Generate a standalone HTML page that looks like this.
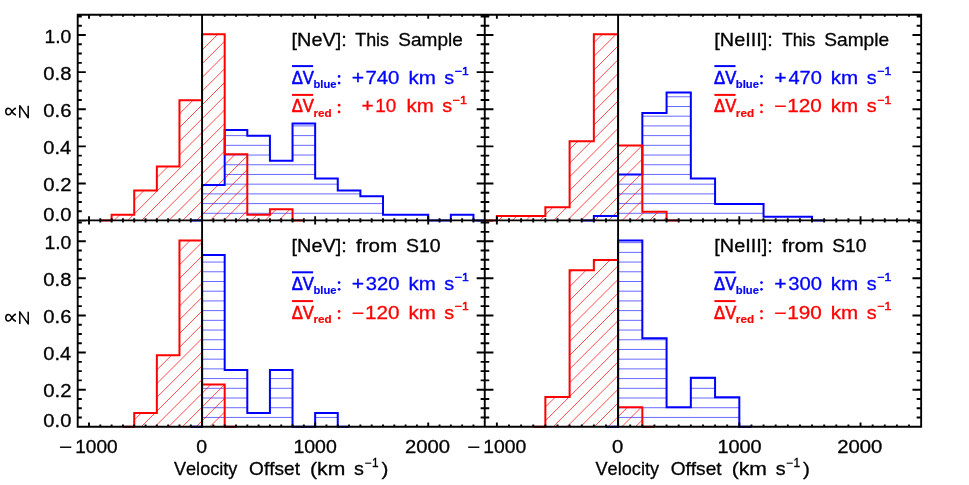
<!DOCTYPE html>
<html><head><meta charset="utf-8"><title>Velocity Offset histograms</title>
<style>html,body{margin:0;padding:0;background:#fff;}svg{display:block;}text{font-family:"Liberation Sans",sans-serif;font-kerning:none;}</style>
</head><body>
<svg width="969" height="485" viewBox="0 0 969 485">
<rect x="0" y="0" width="969" height="485" fill="#fff"/>
<defs><clipPath id="c_p1_blue"><polygon points="202.08,220.40 202.08,185.01 224.69,185.01 224.69,130.07 247.30,130.07 247.30,135.66 269.92,135.66 269.92,160.80 292.53,160.80 292.53,123.55 315.15,123.55 315.15,178.49 337.76,178.49 337.76,190.60 360.37,190.60 360.37,196.19 382.99,196.19 382.99,214.81 405.60,214.81 405.60,214.81 428.22,214.81 428.22,220.40 450.83,220.40 450.83,214.81 473.44,214.81 473.44,220.40"/></clipPath><clipPath id="c_p1_red"><polygon points="111.62,220.40 111.62,214.81 134.23,214.81 134.23,190.60 156.85,190.60 156.85,166.39 179.46,166.39 179.46,100.27 202.08,100.27 202.08,34.15 224.69,34.15 224.69,154.28 247.30,154.28 247.30,214.81 269.92,214.81 269.92,209.22 292.53,209.22 292.53,220.40"/></clipPath><clipPath id="c_p2_blue"><polygon points="593.85,220.40 593.85,216.12 618.09,216.12 618.09,174.58 642.34,174.58 642.34,113.12 666.58,113.12 666.58,92.45 690.83,92.45 690.83,178.49 715.07,178.49 715.07,204.01 739.32,204.01 739.32,204.01 763.56,204.01 763.56,216.68 787.81,216.68 787.81,216.68 812.05,216.68 812.05,220.40"/></clipPath><clipPath id="c_p2_red"><polygon points="496.87,220.40 496.87,215.93 521.12,215.93 521.12,215.93 545.36,215.93 545.36,207.36 569.61,207.36 569.61,141.24 593.85,141.24 593.85,34.15 618.09,34.15 618.09,145.53 642.34,145.53 642.34,211.72 666.58,211.72 666.58,220.40"/></clipPath><clipPath id="c_p3_blue"><polygon points="202.08,426.70 202.08,254.98 224.69,254.98 224.69,369.89 247.30,369.89 247.30,413.10 269.92,413.10 269.92,369.89 292.53,369.89 292.53,426.70 315.15,426.70 315.15,413.10 337.76,413.10 337.76,426.70"/></clipPath><clipPath id="c_p3_red"><polygon points="134.23,426.70 134.23,413.10 156.85,413.10 156.85,355.37 179.46,355.37 179.46,240.45 202.08,240.45 202.08,384.42 224.69,384.42 224.69,426.70"/></clipPath><clipPath id="c_p4_blue"><polygon points="618.09,426.70 618.09,240.45 642.34,240.45 642.34,338.23 666.58,338.23 666.58,407.14 690.83,407.14 690.83,377.81 715.07,377.81 715.07,397.27 739.32,397.27 739.32,426.70"/></clipPath><clipPath id="c_p4_red"><polygon points="545.36,426.70 545.36,396.90 569.61,396.90 569.61,270.25 593.85,270.25 593.85,260.01 618.09,260.01 618.09,407.14 642.34,407.14 642.34,426.70"/></clipPath></defs>
<path clip-path="url(#c_p1_blue)" d="M202.08 213.30H473.44M202.08 203.59H473.44M202.08 193.88H473.44M202.08 184.17H473.44M202.08 174.46H473.44M202.08 164.75H473.44M202.08 155.04H473.44M202.08 145.33H473.44M202.08 135.62H473.44M202.08 125.91H473.44" fill="none" stroke="#0000ff" stroke-width="0.85" stroke-opacity="0.7"/>
<path clip-path="url(#c_p1_red)" d="M-78.15 220.40L108.10 34.15M-64.42 220.40L121.83 34.15M-50.68 220.40L135.57 34.15M-36.95 220.40L149.30 34.15M-23.22 220.40L163.03 34.15M-9.49 220.40L176.76 34.15M4.24 220.40L190.49 34.15M17.98 220.40L204.23 34.15M31.71 220.40L217.96 34.15M45.44 220.40L231.69 34.15M59.17 220.40L245.42 34.15M72.90 220.40L259.15 34.15M86.64 220.40L272.89 34.15M100.37 220.40L286.62 34.15M114.10 220.40L300.35 34.15M127.83 220.40L314.08 34.15M141.56 220.40L327.81 34.15M155.30 220.40L341.55 34.15M169.03 220.40L355.28 34.15M182.76 220.40L369.01 34.15M196.49 220.40L382.74 34.15M210.22 220.40L396.47 34.15M223.96 220.40L410.21 34.15M237.69 220.40L423.94 34.15M251.42 220.40L437.67 34.15M265.15 220.40L451.40 34.15M278.88 220.40L465.13 34.15M292.62 220.40L478.87 34.15" fill="none" stroke="#ff0000" stroke-width="0.9" stroke-opacity="0.8"/>
<path d="M190.77 220.40L202.08 220.40L202.08 185.01L224.69 185.01L224.69 130.07L247.30 130.07L247.30 135.66L269.92 135.66L269.92 160.80L292.53 160.80L292.53 123.55L315.15 123.55L315.15 178.49L337.76 178.49L337.76 190.60L360.37 190.60L360.37 196.19L382.99 196.19L382.99 214.81L405.60 214.81L405.60 214.81L428.22 214.81L428.22 220.40L450.83 220.40L450.83 214.81L473.44 214.81L473.44 220.40L484.75 220.40" fill="none" stroke="#0000ff" stroke-width="2.0" stroke-linejoin="miter"/>
<path d="M100.31 220.40L111.62 220.40L111.62 214.81L134.23 214.81L134.23 190.60L156.85 190.60L156.85 166.39L179.46 166.39L179.46 100.27L202.08 100.27L202.08 34.15L224.69 34.15L224.69 154.28L247.30 154.28L247.30 214.81L269.92 214.81L269.92 209.22L292.53 209.22L292.53 220.40L303.84 220.40" fill="none" stroke="#ff0000" stroke-width="2.0" stroke-linejoin="miter"/>
<path clip-path="url(#c_p2_blue)" d="M593.85 213.30H812.05M593.85 203.59H812.05M593.85 193.88H812.05M593.85 184.17H812.05M593.85 174.46H812.05M593.85 164.75H812.05M593.85 155.04H812.05M593.85 145.33H812.05M593.85 135.62H812.05M593.85 125.91H812.05M593.85 116.20H812.05M593.85 106.49H812.05M593.85 96.78H812.05" fill="none" stroke="#0000ff" stroke-width="0.85" stroke-opacity="0.7"/>
<path clip-path="url(#c_p2_red)" d="M306.35 220.40L492.60 34.15M320.08 220.40L506.33 34.15M333.81 220.40L520.06 34.15M347.54 220.40L533.79 34.15M361.28 220.40L547.53 34.15M375.01 220.40L561.26 34.15M388.74 220.40L574.99 34.15M402.47 220.40L588.72 34.15M416.20 220.40L602.45 34.15M429.94 220.40L616.19 34.15M443.67 220.40L629.92 34.15M457.40 220.40L643.65 34.15M471.13 220.40L657.38 34.15M484.86 220.40L671.11 34.15M498.60 220.40L684.85 34.15M512.33 220.40L698.58 34.15M526.06 220.40L712.31 34.15M539.79 220.40L726.04 34.15M553.52 220.40L739.77 34.15M567.26 220.40L753.51 34.15M580.99 220.40L767.24 34.15M594.72 220.40L780.97 34.15M608.45 220.40L794.70 34.15M622.18 220.40L808.43 34.15M635.92 220.40L822.17 34.15M649.65 220.40L835.90 34.15M663.38 220.40L849.63 34.15M677.11 220.40L863.36 34.15" fill="none" stroke="#ff0000" stroke-width="0.9" stroke-opacity="0.8"/>
<path d="M581.73 220.40L593.85 220.40L593.85 216.12L618.09 216.12L618.09 174.58L642.34 174.58L642.34 113.12L666.58 113.12L666.58 92.45L690.83 92.45L690.83 178.49L715.07 178.49L715.07 204.01L739.32 204.01L739.32 204.01L763.56 204.01L763.56 216.68L787.81 216.68L787.81 216.68L812.05 216.68L812.05 220.40L824.17 220.40" fill="none" stroke="#0000ff" stroke-width="2.0" stroke-linejoin="miter"/>
<path d="M484.75 220.40L496.87 220.40L496.87 215.93L521.12 215.93L521.12 215.93L545.36 215.93L545.36 207.36L569.61 207.36L569.61 141.24L593.85 141.24L593.85 34.15L618.09 34.15L618.09 145.53L642.34 145.53L642.34 211.72L666.58 211.72L666.58 220.40L678.71 220.40" fill="none" stroke="#ff0000" stroke-width="2.0" stroke-linejoin="miter"/>
<path clip-path="url(#c_p3_blue)" d="M202.08 427.14H337.76M202.08 417.43H337.76M202.08 407.72H337.76M202.08 398.01H337.76M202.08 388.30H337.76M202.08 378.59H337.76M202.08 368.88H337.76M202.08 359.17H337.76M202.08 349.46H337.76M202.08 339.75H337.76M202.08 330.04H337.76M202.08 320.33H337.76M202.08 310.62H337.76M202.08 300.91H337.76M202.08 291.20H337.76M202.08 281.49H337.76M202.08 271.78H337.76M202.08 262.07H337.76" fill="none" stroke="#0000ff" stroke-width="0.85" stroke-opacity="0.7"/>
<path clip-path="url(#c_p3_red)" d="M-64.74 426.70L121.51 240.45M-51.00 426.70L135.25 240.45M-37.27 426.70L148.98 240.45M-23.54 426.70L162.71 240.45M-9.81 426.70L176.44 240.45M3.92 426.70L190.17 240.45M17.66 426.70L203.91 240.45M31.39 426.70L217.64 240.45M45.12 426.70L231.37 240.45M58.85 426.70L245.10 240.45M72.58 426.70L258.83 240.45M86.32 426.70L272.57 240.45M100.05 426.70L286.30 240.45M113.78 426.70L300.03 240.45M127.51 426.70L313.76 240.45M141.24 426.70L327.49 240.45M154.98 426.70L341.23 240.45M168.71 426.70L354.96 240.45M182.44 426.70L368.69 240.45M196.17 426.70L382.42 240.45M209.90 426.70L396.15 240.45M223.64 426.70L409.89 240.45M237.37 426.70L423.62 240.45" fill="none" stroke="#ff0000" stroke-width="0.9" stroke-opacity="0.8"/>
<path d="M190.77 426.70L202.08 426.70L202.08 254.98L224.69 254.98L224.69 369.89L247.30 369.89L247.30 413.10L269.92 413.10L269.92 369.89L292.53 369.89L292.53 426.70L315.15 426.70L315.15 413.10L337.76 413.10L337.76 426.70L349.07 426.70" fill="none" stroke="#0000ff" stroke-width="2.0" stroke-linejoin="miter"/>
<path d="M122.93 426.70L134.23 426.70L134.23 413.10L156.85 413.10L156.85 355.37L179.46 355.37L179.46 240.45L202.08 240.45L202.08 384.42L224.69 384.42L224.69 426.70L236.00 426.70" fill="none" stroke="#ff0000" stroke-width="2.0" stroke-linejoin="miter"/>
<path clip-path="url(#c_p4_blue)" d="M618.09 427.14H739.32M618.09 417.43H739.32M618.09 407.72H739.32M618.09 398.01H739.32M618.09 388.30H739.32M618.09 378.59H739.32M618.09 368.88H739.32M618.09 359.17H739.32M618.09 349.46H739.32M618.09 339.75H739.32M618.09 330.04H739.32M618.09 320.33H739.32M618.09 310.62H739.32M618.09 300.91H739.32M618.09 291.20H739.32M618.09 281.49H739.32M618.09 271.78H739.32M618.09 262.07H739.32M618.09 252.36H739.32M618.09 242.65H739.32" fill="none" stroke="#0000ff" stroke-width="0.85" stroke-opacity="0.7"/>
<path clip-path="url(#c_p4_red)" d="M374.69 426.70L541.38 260.01M388.42 426.70L555.11 260.01M402.15 426.70L568.85 260.01M415.88 426.70L582.58 260.01M429.62 426.70L596.31 260.01M443.35 426.70L610.04 260.01M457.08 426.70L623.77 260.01M470.81 426.70L637.51 260.01M484.54 426.70L651.24 260.01M498.28 426.70L664.97 260.01M512.01 426.70L678.70 260.01M525.74 426.70L692.43 260.01M539.47 426.70L706.17 260.01M553.20 426.70L719.90 260.01M566.94 426.70L733.63 260.01M580.67 426.70L747.36 260.01M594.40 426.70L761.09 260.01M608.13 426.70L774.83 260.01M621.86 426.70L788.56 260.01M635.60 426.70L802.29 260.01M649.33 426.70L816.02 260.01" fill="none" stroke="#ff0000" stroke-width="0.9" stroke-opacity="0.8"/>
<path d="M605.97 426.70L618.09 426.70L618.09 240.45L642.34 240.45L642.34 338.23L666.58 338.23L666.58 407.14L690.83 407.14L690.83 377.81L715.07 377.81L715.07 397.27L739.32 397.27L739.32 426.70L751.44 426.70" fill="none" stroke="#0000ff" stroke-width="2.0" stroke-linejoin="miter"/>
<path d="M533.24 426.70L545.36 426.70L545.36 396.90L569.61 396.90L569.61 270.25L593.85 270.25L593.85 260.01L618.09 260.01L618.09 407.14L642.34 407.14L642.34 426.70L654.46 426.70" fill="none" stroke="#ff0000" stroke-width="2.0" stroke-linejoin="miter"/>
<path d="M77.7 14.7H921.15V426.7H77.7ZM77.7 220.4H921.15M484.75 14.7V426.7M89.01 14.7v4.1M89.01 216.3v8.2M89.01 426.7v-4.1M100.31 14.7v2.1M100.31 218.3v4.2M100.31 426.7v-2.1M111.62 14.7v2.1M111.62 218.3v4.2M111.62 426.7v-2.1M122.93 14.7v2.1M122.93 218.3v4.2M122.93 426.7v-2.1M134.23 14.7v2.1M134.23 218.3v4.2M134.23 426.7v-2.1M145.54 14.7v2.1M145.54 218.3v4.2M145.54 426.7v-2.1M156.85 14.7v2.1M156.85 218.3v4.2M156.85 426.7v-2.1M168.16 14.7v2.1M168.16 218.3v4.2M168.16 426.7v-2.1M179.46 14.7v2.1M179.46 218.3v4.2M179.46 426.7v-2.1M190.77 14.7v2.1M190.77 218.3v4.2M190.77 426.7v-2.1M202.08 14.7v4.1M202.08 216.3v8.2M202.08 426.7v-4.1M213.38 14.7v2.1M213.38 218.3v4.2M213.38 426.7v-2.1M224.69 14.7v2.1M224.69 218.3v4.2M224.69 426.7v-2.1M236.00 14.7v2.1M236.00 218.3v4.2M236.00 426.7v-2.1M247.30 14.7v2.1M247.30 218.3v4.2M247.30 426.7v-2.1M258.61 14.7v2.1M258.61 218.3v4.2M258.61 426.7v-2.1M269.92 14.7v2.1M269.92 218.3v4.2M269.92 426.7v-2.1M281.23 14.7v2.1M281.23 218.3v4.2M281.23 426.7v-2.1M292.53 14.7v2.1M292.53 218.3v4.2M292.53 426.7v-2.1M303.84 14.7v2.1M303.84 218.3v4.2M303.84 426.7v-2.1M315.15 14.7v4.1M315.15 216.3v8.2M315.15 426.7v-4.1M326.45 14.7v2.1M326.45 218.3v4.2M326.45 426.7v-2.1M337.76 14.7v2.1M337.76 218.3v4.2M337.76 426.7v-2.1M349.07 14.7v2.1M349.07 218.3v4.2M349.07 426.7v-2.1M360.37 14.7v2.1M360.37 218.3v4.2M360.37 426.7v-2.1M371.68 14.7v2.1M371.68 218.3v4.2M371.68 426.7v-2.1M382.99 14.7v2.1M382.99 218.3v4.2M382.99 426.7v-2.1M394.29 14.7v2.1M394.29 218.3v4.2M394.29 426.7v-2.1M405.60 14.7v2.1M405.60 218.3v4.2M405.60 426.7v-2.1M416.91 14.7v2.1M416.91 218.3v4.2M416.91 426.7v-2.1M428.22 14.7v4.1M428.22 216.3v8.2M428.22 426.7v-4.1M439.52 14.7v2.1M439.52 218.3v4.2M439.52 426.7v-2.1M450.83 14.7v2.1M450.83 218.3v4.2M450.83 426.7v-2.1M462.14 14.7v2.1M462.14 218.3v4.2M462.14 426.7v-2.1M473.44 14.7v2.1M473.44 218.3v4.2M473.44 426.7v-2.1M496.87 14.7v4.1M496.87 216.3v8.2M496.87 426.7v-4.1M508.99 14.7v2.1M508.99 218.3v4.2M508.99 426.7v-2.1M521.12 14.7v2.1M521.12 218.3v4.2M521.12 426.7v-2.1M533.24 14.7v2.1M533.24 218.3v4.2M533.24 426.7v-2.1M545.36 14.7v2.1M545.36 218.3v4.2M545.36 426.7v-2.1M557.48 14.7v2.1M557.48 218.3v4.2M557.48 426.7v-2.1M569.61 14.7v2.1M569.61 218.3v4.2M569.61 426.7v-2.1M581.73 14.7v2.1M581.73 218.3v4.2M581.73 426.7v-2.1M593.85 14.7v2.1M593.85 218.3v4.2M593.85 426.7v-2.1M605.97 14.7v2.1M605.97 218.3v4.2M605.97 426.7v-2.1M618.09 14.7v4.1M618.09 216.3v8.2M618.09 426.7v-4.1M630.22 14.7v2.1M630.22 218.3v4.2M630.22 426.7v-2.1M642.34 14.7v2.1M642.34 218.3v4.2M642.34 426.7v-2.1M654.46 14.7v2.1M654.46 218.3v4.2M654.46 426.7v-2.1M666.58 14.7v2.1M666.58 218.3v4.2M666.58 426.7v-2.1M678.71 14.7v2.1M678.71 218.3v4.2M678.71 426.7v-2.1M690.83 14.7v2.1M690.83 218.3v4.2M690.83 426.7v-2.1M702.95 14.7v2.1M702.95 218.3v4.2M702.95 426.7v-2.1M715.07 14.7v2.1M715.07 218.3v4.2M715.07 426.7v-2.1M727.19 14.7v2.1M727.19 218.3v4.2M727.19 426.7v-2.1M739.32 14.7v4.1M739.32 216.3v8.2M739.32 426.7v-4.1M751.44 14.7v2.1M751.44 218.3v4.2M751.44 426.7v-2.1M763.56 14.7v2.1M763.56 218.3v4.2M763.56 426.7v-2.1M775.68 14.7v2.1M775.68 218.3v4.2M775.68 426.7v-2.1M787.81 14.7v2.1M787.81 218.3v4.2M787.81 426.7v-2.1M799.93 14.7v2.1M799.93 218.3v4.2M799.93 426.7v-2.1M812.05 14.7v2.1M812.05 218.3v4.2M812.05 426.7v-2.1M824.17 14.7v2.1M824.17 218.3v4.2M824.17 426.7v-2.1M836.29 14.7v2.1M836.29 218.3v4.2M836.29 426.7v-2.1M848.42 14.7v2.1M848.42 218.3v4.2M848.42 426.7v-2.1M860.54 14.7v4.1M860.54 216.3v8.2M860.54 426.7v-4.1M872.66 14.7v2.1M872.66 218.3v4.2M872.66 426.7v-2.1M884.78 14.7v2.1M884.78 218.3v4.2M884.78 426.7v-2.1M896.91 14.7v2.1M896.91 218.3v4.2M896.91 426.7v-2.1M909.03 14.7v2.1M909.03 218.3v4.2M909.03 426.7v-2.1M202.08 14.7V426.7M618.09 14.7V426.7M77.7 220.60h8.1M476.65 220.60h16.799999999999997M921.15 220.60h-8.7M77.7 211.32h4.1M480.65 211.32h8.6M921.15 211.32h-4.5M77.7 202.04h4.1M480.65 202.04h8.6M921.15 202.04h-4.5M77.7 192.76h4.1M480.65 192.76h8.6M921.15 192.76h-4.5M77.7 183.48h8.1M476.65 183.48h16.799999999999997M921.15 183.48h-8.7M77.7 174.20h4.1M480.65 174.20h8.6M921.15 174.20h-4.5M77.7 164.92h4.1M480.65 164.92h8.6M921.15 164.92h-4.5M77.7 155.64h4.1M480.65 155.64h8.6M921.15 155.64h-4.5M77.7 146.36h8.1M476.65 146.36h16.799999999999997M921.15 146.36h-8.7M77.7 137.08h4.1M480.65 137.08h8.6M921.15 137.08h-4.5M77.7 127.80h4.1M480.65 127.80h8.6M921.15 127.80h-4.5M77.7 118.52h4.1M480.65 118.52h8.6M921.15 118.52h-4.5M77.7 109.24h8.1M476.65 109.24h16.799999999999997M921.15 109.24h-8.7M77.7 99.96h4.1M480.65 99.96h8.6M921.15 99.96h-4.5M77.7 90.68h4.1M480.65 90.68h8.6M921.15 90.68h-4.5M77.7 81.40h4.1M480.65 81.40h8.6M921.15 81.40h-4.5M77.7 72.12h8.1M476.65 72.12h16.799999999999997M921.15 72.12h-8.7M77.7 62.84h4.1M480.65 62.84h8.6M921.15 62.84h-4.5M77.7 53.56h4.1M480.65 53.56h8.6M921.15 53.56h-4.5M77.7 44.28h4.1M480.65 44.28h8.6M921.15 44.28h-4.5M77.7 35.00h8.1M476.65 35.00h16.799999999999997M921.15 35.00h-8.7M77.7 25.72h4.1M480.65 25.72h8.6M921.15 25.72h-4.5M77.7 16.44h4.1M480.65 16.44h8.6M921.15 16.44h-4.5M77.7 426.80h8.1M476.65 426.80h16.799999999999997M921.15 426.80h-8.7M77.7 417.52h4.1M480.65 417.52h8.6M921.15 417.52h-4.5M77.7 408.24h4.1M480.65 408.24h8.6M921.15 408.24h-4.5M77.7 398.96h4.1M480.65 398.96h8.6M921.15 398.96h-4.5M77.7 389.68h8.1M476.65 389.68h16.799999999999997M921.15 389.68h-8.7M77.7 380.40h4.1M480.65 380.40h8.6M921.15 380.40h-4.5M77.7 371.12h4.1M480.65 371.12h8.6M921.15 371.12h-4.5M77.7 361.84h4.1M480.65 361.84h8.6M921.15 361.84h-4.5M77.7 352.56h8.1M476.65 352.56h16.799999999999997M921.15 352.56h-8.7M77.7 343.28h4.1M480.65 343.28h8.6M921.15 343.28h-4.5M77.7 334.00h4.1M480.65 334.00h8.6M921.15 334.00h-4.5M77.7 324.72h4.1M480.65 324.72h8.6M921.15 324.72h-4.5M77.7 315.44h8.1M476.65 315.44h16.799999999999997M921.15 315.44h-8.7M77.7 306.16h4.1M480.65 306.16h8.6M921.15 306.16h-4.5M77.7 296.88h4.1M480.65 296.88h8.6M921.15 296.88h-4.5M77.7 287.60h4.1M480.65 287.60h8.6M921.15 287.60h-4.5M77.7 278.32h8.1M476.65 278.32h16.799999999999997M921.15 278.32h-8.7M77.7 269.04h4.1M480.65 269.04h8.6M921.15 269.04h-4.5M77.7 259.76h4.1M480.65 259.76h8.6M921.15 259.76h-4.5M77.7 250.48h4.1M480.65 250.48h8.6M921.15 250.48h-4.5M77.7 241.20h8.1M476.65 241.20h16.799999999999997M921.15 241.20h-8.7M77.7 231.92h4.1M480.65 231.92h8.6M921.15 231.92h-4.5M77.7 222.64h4.1M480.65 222.64h8.6M921.15 222.64h-4.5" fill="none" stroke="#000" stroke-width="1.9" stroke-linecap="butt"/>
<g opacity="0.999">
<text transform="translate(44.42 42.60) scale(1.0884 1)" font-size="17.8" fill="#000" stroke="#000" stroke-width="0.3">1.0</text>
<text transform="translate(43.31 79.72) scale(1.1385 1)" font-size="17.8" fill="#000" stroke="#000" stroke-width="0.3">0.8</text>
<text transform="translate(43.31 116.84) scale(1.1390 1)" font-size="17.8" fill="#000" stroke="#000" stroke-width="0.3">0.6</text>
<text transform="translate(43.32 153.96) scale(1.1263 1)" font-size="17.8" fill="#000" stroke="#000" stroke-width="0.3">0.4</text>
<text transform="translate(43.30 191.08) scale(1.1445 1)" font-size="17.8" fill="#000" stroke="#000" stroke-width="0.3">0.2</text>
<text transform="translate(43.31 221.20) scale(1.1347 1)" font-size="17.8" fill="#000" stroke="#000" stroke-width="0.3">0.0</text>
<path transform="translate(0 111.54)" d="M16 -3.4C13.6 -3.2 12.6 -1.2 11.6 0.6C10.6 2.4 9.7 3.3 8.4 3.3C6.8 3.3 5.8 1.8 5.8 0C5.8 -1.8 6.8 -3.3 8.4 -3.3C9.7 -3.3 10.6 -2.4 11.6 -0.6C12.6 1.2 13.6 3.2 16 3.4" fill="none" stroke="#000" stroke-width="1.5"/>
<path transform="translate(0 111.54)" d="M19.8 6.2V-5.9L28.2 6.2V-5.9" fill="none" stroke="#000" stroke-width="1.5" stroke-linejoin="round"/>
<text transform="translate(44.42 248.80) scale(1.0884 1)" font-size="17.8" fill="#000" stroke="#000" stroke-width="0.3">1.0</text>
<text transform="translate(43.31 285.92) scale(1.1385 1)" font-size="17.8" fill="#000" stroke="#000" stroke-width="0.3">0.8</text>
<text transform="translate(43.31 323.04) scale(1.1390 1)" font-size="17.8" fill="#000" stroke="#000" stroke-width="0.3">0.6</text>
<text transform="translate(43.32 360.16) scale(1.1263 1)" font-size="17.8" fill="#000" stroke="#000" stroke-width="0.3">0.4</text>
<text transform="translate(43.30 397.28) scale(1.1445 1)" font-size="17.8" fill="#000" stroke="#000" stroke-width="0.3">0.2</text>
<text transform="translate(43.31 427.40) scale(1.1347 1)" font-size="17.8" fill="#000" stroke="#000" stroke-width="0.3">0.0</text>
<path transform="translate(0 317.74)" d="M16 -3.4C13.6 -3.2 12.6 -1.2 11.6 0.6C10.6 2.4 9.7 3.3 8.4 3.3C6.8 3.3 5.8 1.8 5.8 0C5.8 -1.8 6.8 -3.3 8.4 -3.3C9.7 -3.3 10.6 -2.4 11.6 -0.6C12.6 1.2 13.6 3.2 16 3.4" fill="none" stroke="#000" stroke-width="1.5"/>
<path transform="translate(0 317.74)" d="M19.8 6.2V-5.9L28.2 6.2V-5.9" fill="none" stroke="#000" stroke-width="1.5" stroke-linejoin="round"/>
<text transform="translate(59.09 453.00) scale(1.2604 1)" font-size="17.8" fill="#000" stroke="#000" stroke-width="0.3">−</text>
<text transform="translate(75.25 453.00) scale(1.0707 1)" font-size="17.8" fill="#000" stroke="#000" stroke-width="0.3">1000</text>
<text transform="translate(196.24 453.00) scale(1.0930 1)" font-size="17.8" fill="#000" stroke="#000" stroke-width="0.3">0</text>
<text transform="translate(293.41 453.00) scale(1.0973 1)" font-size="17.8" fill="#000" stroke="#000" stroke-width="0.3">1000</text>
<text transform="translate(404.88 453.00) scale(1.1392 1)" font-size="17.8" fill="#000" stroke="#000" stroke-width="0.3">2000</text>
<text transform="translate(467.21 453.00) scale(1.2373 1)" font-size="17.8" fill="#000" stroke="#000" stroke-width="0.3">−</text>
<text transform="translate(483.33 453.00) scale(1.0866 1)" font-size="17.8" fill="#000" stroke="#000" stroke-width="0.3">1000</text>
<text transform="translate(611.91 453.00) scale(1.1400 1)" font-size="17.8" fill="#000" stroke="#000" stroke-width="0.3">0</text>
<text transform="translate(717.49 453.00) scale(1.1159 1)" font-size="17.8" fill="#000" stroke="#000" stroke-width="0.3">1000</text>
<text transform="translate(837.28 453.00) scale(1.1392 1)" font-size="17.8" fill="#000" stroke="#000" stroke-width="0.3">2000</text>
<text transform="translate(173.92 474.60) scale(1.0191 1)" font-size="17.8" fill="#000" stroke="#000" stroke-width="0.3">Velocity</text>
<text transform="translate(249.10 474.60) scale(1.0708 1)" font-size="17.8" fill="#000" stroke="#000" stroke-width="0.3">Offset</text>
<text transform="translate(310.09 474.60) scale(1.1871 1)" font-size="17.8" fill="#000" stroke="#000" stroke-width="0.3">(km</text>
<text transform="translate(354.05 474.60) scale(1.1080 1)" font-size="17.8" fill="#000" stroke="#000" stroke-width="0.3">s</text>
<text transform="translate(365.02 466.85) scale(0.9920 1)" font-size="11.9" fill="#000" stroke="#000" stroke-width="0.35">−1</text>
<text transform="translate(381.38 474.60) scale(1.1654 1)" font-size="17.8" fill="#000" stroke="#000" stroke-width="0.3">)</text>
<text transform="translate(595.52 474.60) scale(1.0191 1)" font-size="17.8" fill="#000" stroke="#000" stroke-width="0.3">Velocity</text>
<text transform="translate(670.70 474.60) scale(1.0708 1)" font-size="17.8" fill="#000" stroke="#000" stroke-width="0.3">Offset</text>
<text transform="translate(731.69 474.60) scale(1.1871 1)" font-size="17.8" fill="#000" stroke="#000" stroke-width="0.3">(km</text>
<text transform="translate(775.65 474.60) scale(1.1080 1)" font-size="17.8" fill="#000" stroke="#000" stroke-width="0.3">s</text>
<text transform="translate(786.62 466.85) scale(0.9920 1)" font-size="11.9" fill="#000" stroke="#000" stroke-width="0.35">−1</text>
<text transform="translate(802.98 474.60) scale(1.1654 1)" font-size="17.8" fill="#000" stroke="#000" stroke-width="0.3">)</text>
<text transform="translate(291.58 45.80) scale(1.1166 1)" font-size="17.8" fill="#000" stroke="#000" stroke-width="0.3">[NeV]:</text>
<text transform="translate(355.20 45.80) scale(1.0066 1)" font-size="17.8" fill="#000" stroke="#000" stroke-width="0.3">This</text>
<text transform="translate(398.34 45.80) scale(1.0689 1)" font-size="17.8" fill="#000" stroke="#000" stroke-width="0.3">Sample</text>
<text transform="translate(291.70 83.50) scale(0.9372 1)" font-size="17.8" fill="#0000ff" stroke="#0000ff" stroke-width="0.6">ΔV</text>
<path d="M292.00 66.10h21.1" stroke="#0000ff" stroke-width="2" fill="none"/>
<text transform="translate(313.46 87.80) scale(0.9654 1)" font-size="11.6" fill="#0000ff" font-weight="bold" stroke="#0000ff" stroke-width="0.2">blue</text>
<circle cx="339.10" cy="76.40" r="1.35" fill="#0000ff"/><circle cx="339.10" cy="83.10" r="1.35" fill="#0000ff"/>
<text transform="translate(351.86 83.50) scale(1.1910 1)" font-size="17.8" fill="#0000ff" stroke="#0000ff" stroke-width="0.3">+</text>
<text transform="translate(365.45 83.50) scale(1.1463 1)" font-size="17.8" fill="#0000ff" stroke="#0000ff" stroke-width="0.3">740</text>
<text transform="translate(408.41 83.50) scale(1.1566 1)" font-size="17.8" fill="#0000ff" stroke="#0000ff" stroke-width="0.3">km</text>
<text transform="translate(444.35 83.50) scale(1.1080 1)" font-size="17.8" fill="#0000ff" stroke="#0000ff" stroke-width="0.3">s</text>
<text transform="translate(455.00 75.20) scale(1.0417 1)" font-size="11.7" fill="#0000ff" stroke="#0000ff" stroke-width="0.5">−1</text>
<text transform="translate(291.70 112.30) scale(0.9372 1)" font-size="17.8" fill="#ff0000" stroke="#ff0000" stroke-width="0.6">ΔV</text>
<path d="M292.00 94.90h21.1" stroke="#ff0000" stroke-width="2" fill="none"/>
<text transform="translate(313.43 116.60) scale(1.0108 1)" font-size="11.6" fill="#ff0000" font-weight="bold" stroke="#ff0000" stroke-width="0.2">red</text>
<circle cx="339.10" cy="105.20" r="1.35" fill="#ff0000"/><circle cx="339.10" cy="111.90" r="1.35" fill="#ff0000"/>
<text transform="translate(361.38 112.30) scale(1.1679 1)" font-size="17.8" fill="#ff0000" stroke="#ff0000" stroke-width="0.3">+</text>
<text transform="translate(375.36 112.30) scale(1.0593 1)" font-size="17.8" fill="#ff0000" stroke="#ff0000" stroke-width="0.3">10</text>
<text transform="translate(406.52 112.30) scale(1.1520 1)" font-size="17.8" fill="#ff0000" stroke="#ff0000" stroke-width="0.3">km</text>
<text transform="translate(442.35 112.30) scale(1.1080 1)" font-size="17.8" fill="#ff0000" stroke="#ff0000" stroke-width="0.3">s</text>
<text transform="translate(452.78 104.00) scale(1.0663 1)" font-size="11.7" fill="#ff0000" stroke="#ff0000" stroke-width="0.5">−1</text>
<text transform="translate(714.28 45.80) scale(1.1164 1)" font-size="17.8" fill="#000" stroke="#000" stroke-width="0.3">[NeIII]:</text>
<text transform="translate(782.00 45.80) scale(0.9882 1)" font-size="17.8" fill="#000" stroke="#000" stroke-width="0.3">This</text>
<text transform="translate(824.23 45.80) scale(1.0757 1)" font-size="17.8" fill="#000" stroke="#000" stroke-width="0.3">Sample</text>
<text transform="translate(714.10 83.50) scale(0.9372 1)" font-size="17.8" fill="#0000ff" stroke="#0000ff" stroke-width="0.6">ΔV</text>
<path d="M714.40 66.10h21.1" stroke="#0000ff" stroke-width="2" fill="none"/>
<text transform="translate(735.86 87.80) scale(0.9654 1)" font-size="11.6" fill="#0000ff" font-weight="bold" stroke="#0000ff" stroke-width="0.2">blue</text>
<circle cx="761.50" cy="76.40" r="1.35" fill="#0000ff"/><circle cx="761.50" cy="83.10" r="1.35" fill="#0000ff"/>
<text transform="translate(774.26 83.50) scale(1.1910 1)" font-size="17.8" fill="#0000ff" stroke="#0000ff" stroke-width="0.3">+</text>
<text transform="translate(788.44 83.50) scale(1.1261 1)" font-size="17.8" fill="#0000ff" stroke="#0000ff" stroke-width="0.3">470</text>
<text transform="translate(830.81 83.50) scale(1.1566 1)" font-size="17.8" fill="#0000ff" stroke="#0000ff" stroke-width="0.3">km</text>
<text transform="translate(866.75 83.50) scale(1.1080 1)" font-size="17.8" fill="#0000ff" stroke="#0000ff" stroke-width="0.3">s</text>
<text transform="translate(877.40 75.20) scale(1.0417 1)" font-size="11.7" fill="#0000ff" stroke="#0000ff" stroke-width="0.5">−1</text>
<text transform="translate(714.10 112.30) scale(0.9372 1)" font-size="17.8" fill="#ff0000" stroke="#ff0000" stroke-width="0.6">ΔV</text>
<path d="M714.40 94.90h21.1" stroke="#ff0000" stroke-width="2" fill="none"/>
<text transform="translate(735.83 116.60) scale(1.0108 1)" font-size="11.6" fill="#ff0000" font-weight="bold" stroke="#ff0000" stroke-width="0.2">red</text>
<circle cx="761.50" cy="105.20" r="1.35" fill="#ff0000"/><circle cx="761.50" cy="111.90" r="1.35" fill="#ff0000"/>
<text transform="translate(774.25 112.30) scale(1.1910 1)" font-size="17.8" fill="#ff0000" stroke="#ff0000" stroke-width="0.3">−</text>
<text transform="translate(787.32 112.30) scale(1.1647 1)" font-size="17.8" fill="#ff0000" stroke="#ff0000" stroke-width="0.3">120</text>
<text transform="translate(830.81 112.30) scale(1.1566 1)" font-size="17.8" fill="#ff0000" stroke="#ff0000" stroke-width="0.3">km</text>
<text transform="translate(866.75 112.30) scale(1.1080 1)" font-size="17.8" fill="#ff0000" stroke="#ff0000" stroke-width="0.3">s</text>
<text transform="translate(877.40 104.00) scale(1.0417 1)" font-size="11.7" fill="#ff0000" stroke="#ff0000" stroke-width="0.5">−1</text>
<text transform="translate(291.58 252.00) scale(1.1166 1)" font-size="17.8" fill="#000" stroke="#000" stroke-width="0.3">[NeV]:</text>
<text transform="translate(355.91 252.00) scale(1.1588 1)" font-size="17.8" fill="#000" stroke="#000" stroke-width="0.3">from</text>
<text transform="translate(405.92 252.00) scale(1.0939 1)" font-size="17.8" fill="#000" stroke="#000" stroke-width="0.3">S10</text>
<text transform="translate(291.70 289.70) scale(0.9372 1)" font-size="17.8" fill="#0000ff" stroke="#0000ff" stroke-width="0.6">ΔV</text>
<path d="M292.00 272.30h21.1" stroke="#0000ff" stroke-width="2" fill="none"/>
<text transform="translate(313.46 294.00) scale(0.9654 1)" font-size="11.6" fill="#0000ff" font-weight="bold" stroke="#0000ff" stroke-width="0.2">blue</text>
<circle cx="339.10" cy="282.60" r="1.35" fill="#0000ff"/><circle cx="339.10" cy="289.30" r="1.35" fill="#0000ff"/>
<text transform="translate(351.86 289.70) scale(1.1910 1)" font-size="17.8" fill="#0000ff" stroke="#0000ff" stroke-width="0.3">+</text>
<text transform="translate(365.73 289.70) scale(1.1368 1)" font-size="17.8" fill="#0000ff" stroke="#0000ff" stroke-width="0.3">320</text>
<text transform="translate(408.41 289.70) scale(1.1566 1)" font-size="17.8" fill="#0000ff" stroke="#0000ff" stroke-width="0.3">km</text>
<text transform="translate(444.35 289.70) scale(1.1080 1)" font-size="17.8" fill="#0000ff" stroke="#0000ff" stroke-width="0.3">s</text>
<text transform="translate(455.00 281.40) scale(1.0417 1)" font-size="11.7" fill="#0000ff" stroke="#0000ff" stroke-width="0.5">−1</text>
<text transform="translate(291.70 318.50) scale(0.9372 1)" font-size="17.8" fill="#ff0000" stroke="#ff0000" stroke-width="0.6">ΔV</text>
<path d="M292.00 301.10h21.1" stroke="#ff0000" stroke-width="2" fill="none"/>
<text transform="translate(313.43 322.80) scale(1.0108 1)" font-size="11.6" fill="#ff0000" font-weight="bold" stroke="#ff0000" stroke-width="0.2">red</text>
<circle cx="339.10" cy="311.40" r="1.35" fill="#ff0000"/><circle cx="339.10" cy="318.10" r="1.35" fill="#ff0000"/>
<text transform="translate(351.85 318.50) scale(1.1910 1)" font-size="17.8" fill="#ff0000" stroke="#ff0000" stroke-width="0.3">−</text>
<text transform="translate(364.92 318.50) scale(1.1647 1)" font-size="17.8" fill="#ff0000" stroke="#ff0000" stroke-width="0.3">120</text>
<text transform="translate(408.41 318.50) scale(1.1566 1)" font-size="17.8" fill="#ff0000" stroke="#ff0000" stroke-width="0.3">km</text>
<text transform="translate(444.35 318.50) scale(1.1080 1)" font-size="17.8" fill="#ff0000" stroke="#ff0000" stroke-width="0.3">s</text>
<text transform="translate(455.00 310.20) scale(1.0417 1)" font-size="11.7" fill="#ff0000" stroke="#ff0000" stroke-width="0.5">−1</text>
<text transform="translate(714.28 252.00) scale(1.1164 1)" font-size="17.8" fill="#000" stroke="#000" stroke-width="0.3">[NeIII]:</text>
<text transform="translate(782.11 252.00) scale(1.1646 1)" font-size="17.8" fill="#000" stroke="#000" stroke-width="0.3">from</text>
<text transform="translate(832.13 252.00) scale(1.0806 1)" font-size="17.8" fill="#000" stroke="#000" stroke-width="0.3">S10</text>
<text transform="translate(714.10 289.70) scale(0.9372 1)" font-size="17.8" fill="#0000ff" stroke="#0000ff" stroke-width="0.6">ΔV</text>
<path d="M714.40 272.30h21.1" stroke="#0000ff" stroke-width="2" fill="none"/>
<text transform="translate(735.86 294.00) scale(0.9654 1)" font-size="11.6" fill="#0000ff" font-weight="bold" stroke="#0000ff" stroke-width="0.2">blue</text>
<circle cx="761.50" cy="282.60" r="1.35" fill="#0000ff"/><circle cx="761.50" cy="289.30" r="1.35" fill="#0000ff"/>
<text transform="translate(774.26 289.70) scale(1.1910 1)" font-size="17.8" fill="#0000ff" stroke="#0000ff" stroke-width="0.3">+</text>
<text transform="translate(788.13 289.70) scale(1.1368 1)" font-size="17.8" fill="#0000ff" stroke="#0000ff" stroke-width="0.3">300</text>
<text transform="translate(830.81 289.70) scale(1.1566 1)" font-size="17.8" fill="#0000ff" stroke="#0000ff" stroke-width="0.3">km</text>
<text transform="translate(866.75 289.70) scale(1.1080 1)" font-size="17.8" fill="#0000ff" stroke="#0000ff" stroke-width="0.3">s</text>
<text transform="translate(877.40 281.40) scale(1.0417 1)" font-size="11.7" fill="#0000ff" stroke="#0000ff" stroke-width="0.5">−1</text>
<text transform="translate(714.10 318.50) scale(0.9372 1)" font-size="17.8" fill="#ff0000" stroke="#ff0000" stroke-width="0.6">ΔV</text>
<path d="M714.40 301.10h21.1" stroke="#ff0000" stroke-width="2" fill="none"/>
<text transform="translate(735.83 322.80) scale(1.0108 1)" font-size="11.6" fill="#ff0000" font-weight="bold" stroke="#ff0000" stroke-width="0.2">red</text>
<circle cx="761.50" cy="311.40" r="1.35" fill="#ff0000"/><circle cx="761.50" cy="318.10" r="1.35" fill="#ff0000"/>
<text transform="translate(774.25 318.50) scale(1.1910 1)" font-size="17.8" fill="#ff0000" stroke="#ff0000" stroke-width="0.3">−</text>
<text transform="translate(787.32 318.50) scale(1.1647 1)" font-size="17.8" fill="#ff0000" stroke="#ff0000" stroke-width="0.3">190</text>
<text transform="translate(830.81 318.50) scale(1.1566 1)" font-size="17.8" fill="#ff0000" stroke="#ff0000" stroke-width="0.3">km</text>
<text transform="translate(866.75 318.50) scale(1.1080 1)" font-size="17.8" fill="#ff0000" stroke="#ff0000" stroke-width="0.3">s</text>
<text transform="translate(877.40 310.20) scale(1.0417 1)" font-size="11.7" fill="#ff0000" stroke="#ff0000" stroke-width="0.5">−1</text>
</g>
</svg>
</body></html>
